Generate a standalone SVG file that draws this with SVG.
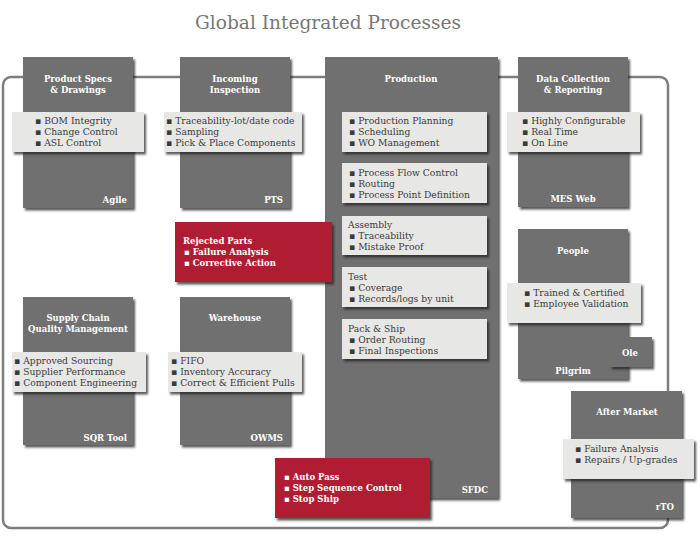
<svg xmlns="http://www.w3.org/2000/svg" width="700" height="537" viewBox="0 0 700 537">
<defs>
<filter id="sh" x="-10%" y="-10%" width="130%" height="130%">
<feDropShadow dx="2" dy="2.5" stdDeviation="1" flood-color="#222" flood-opacity="0.75"/>
</filter>
<style>
.dk{fill:#6f6f6f;filter:url(#sh)}
.lt{fill:#e7e7e5;filter:url(#sh)}
.rd{fill:#b01f33;filter:url(#sh)}
text{font-family:"DejaVu Serif","Liberation Serif",serif;font-size:9.2px}
.h{fill:#fff;font-weight:bold;text-anchor:middle;font-size:8.5px}
.s{fill:#fff;font-weight:bold;text-anchor:end;font-size:8.5px}
.b{fill:#3a3a3a}
.w{fill:#fff;font-weight:bold;font-size:8.5px}
.t{fill:#777;font-size:18px;text-anchor:middle}
.ln{fill:none;stroke:#7d7d7d;stroke-width:2.5}
</style>
</defs>
<rect width="700" height="537" fill="#fff"/>
<text class="t" x="328" y="29" textLength="266" lengthAdjust="spacingAndGlyphs">Global Integrated Processes</text>
<g id="connectors">
<rect class="ln" x="3" y="77" width="665" height="451" rx="8"/>
</g>
<g id="product-specs">
<rect class="dk" x="23" y="57" width="110" height="151"/>
<text class="h" x="78" y="82">Product Specs</text>
<text class="h" x="78" y="93">&amp; Drawings</text>
<rect class="lt" x="12" y="112" width="132" height="40"/>
<text class="b" x="35" y="124">▪ BOM Integrity</text>
<text class="b" x="35" y="135">▪ Change Control</text>
<text class="b" x="35" y="146">▪ ASL Control</text>
<text class="s" x="127" y="203">Agile</text>
</g>
<g id="incoming-inspection">
<rect class="dk" x="180" y="57" width="110" height="151"/>
<text class="h" x="235" y="82">Incoming</text>
<text class="h" x="235" y="93">Inspection</text>
<rect class="lt" x="164" y="112" width="138" height="40"/>
<text class="b" x="166" y="124">▪ Traceability-lot/date code</text>
<text class="b" x="166" y="135">▪ Sampling</text>
<text class="b" x="166" y="146">▪ Pick &amp; Place Components</text>
<text class="s" x="283" y="203">PTS</text>
</g>
<g id="production">
<rect class="dk" x="325" y="57" width="173" height="441"/>
<text class="h" x="411" y="82">Production</text>
<rect class="lt" x="342" y="112" width="145" height="40"/>
<text class="b" x="349" y="124">▪ Production Planning</text>
<text class="b" x="349" y="135">▪ Scheduling</text>
<text class="b" x="349" y="146">▪ WO Management</text>
<rect class="lt" x="342" y="163" width="145" height="40"/>
<text class="b" x="349" y="176">▪ Process Flow Control</text>
<text class="b" x="349" y="187">▪ Routing</text>
<text class="b" x="349" y="198">▪ Process Point Definition</text>
<rect class="lt" x="342" y="216" width="145" height="39"/>
<text class="b" x="348" y="228">Assembly</text>
<text class="b" x="349" y="239">▪ Traceability</text>
<text class="b" x="349" y="250">▪ Mistake Proof</text>
<rect class="lt" x="342" y="267" width="145" height="40"/>
<text class="b" x="348" y="280">Test</text>
<text class="b" x="349" y="291">▪ Coverage</text>
<text class="b" x="349" y="302">▪ Records/logs by unit</text>
<rect class="lt" x="342" y="319" width="145" height="40"/>
<text class="b" x="348" y="332">Pack &amp; Ship</text>
<text class="b" x="349" y="343">▪ Order Routing</text>
<text class="b" x="349" y="354">▪ Final Inspections</text>
<text class="s" x="488" y="493">SFDC</text>
</g>
<g id="data-collection">
<rect class="dk" x="518" y="57" width="110" height="150"/>
<text class="h" x="573" y="82">Data Collection</text>
<text class="h" x="573" y="93">&amp; Reporting</text>
<rect class="lt" x="507" y="112" width="133" height="40"/>
<text class="b" x="522" y="124">▪ Highly Configurable</text>
<text class="b" x="522" y="135">▪ Real Time</text>
<text class="b" x="522" y="146">▪ On Line</text>
<text class="h" x="573" y="202">MES Web</text>
</g>
<g id="rejected-parts">
<rect class="rd" x="175" y="222" width="157" height="60"/>
<text class="w" x="183" y="244">Rejected Parts</text>
<text class="w" x="184" y="255">▪ Failure Analysis</text>
<text class="w" x="184" y="266">▪ Corrective Action</text>
</g>
<g id="people">
<rect class="dk" x="518" y="229" width="110" height="150"/>
<text class="h" x="573" y="254">People</text>
<rect class="lt" x="507" y="283" width="134" height="40"/>
<text class="b" x="524" y="296">▪ Trained &amp; Certified</text>
<text class="b" x="524" y="307">▪ Employee Validation</text>
<rect class="dk" x="610" y="337" width="42" height="30"/>
<text class="h" x="630" y="356">Ole</text>
<text class="h" x="573" y="374">Pilgrim</text>
</g>
<g id="supply-chain">
<rect class="dk" x="23" y="297" width="110" height="148"/>
<text class="h" x="78" y="321">Supply Chain</text>
<text class="h" x="78" y="332">Quality Management</text>
<rect class="lt" x="12" y="352" width="134" height="40"/>
<text class="b" x="14" y="364">▪ Approved Sourcing</text>
<text class="b" x="14" y="375">▪ Supplier Performance</text>
<text class="b" x="14" y="386">▪ Component Engineering</text>
<text class="s" x="127" y="441">SQR Tool</text>
</g>
<g id="warehouse">
<rect class="dk" x="180" y="297" width="110" height="148"/>
<text class="h" x="235" y="321">Warehouse</text>
<rect class="lt" x="168" y="352" width="134" height="40"/>
<text class="b" x="171" y="364">▪ FIFO</text>
<text class="b" x="171" y="375">▪ Inventory Accuracy</text>
<text class="b" x="171" y="386">▪ Correct &amp; Efficient Pulls</text>
<text class="s" x="283" y="441">OWMS</text>
</g>
<g id="after-market">
<rect class="dk" x="571" y="391" width="111" height="127"/>
<text class="h" x="627" y="415">After Market</text>
<rect class="lt" x="563" y="439" width="131" height="40"/>
<text class="b" x="575" y="452">▪ Failure Analysis</text>
<text class="b" x="575" y="463">▪ Repairs / Up-grades</text>
<text class="s" x="674" y="510">rTO</text>
</g>
<g id="auto-pass">
<rect class="rd" x="275" y="458" width="155" height="60"/>
<text class="w" x="284" y="480">▪ Auto Pass</text>
<text class="w" x="284" y="491">▪ Step Sequence Control</text>
<text class="w" x="284" y="502">▪ Stop Ship</text>
</g>
</svg>
